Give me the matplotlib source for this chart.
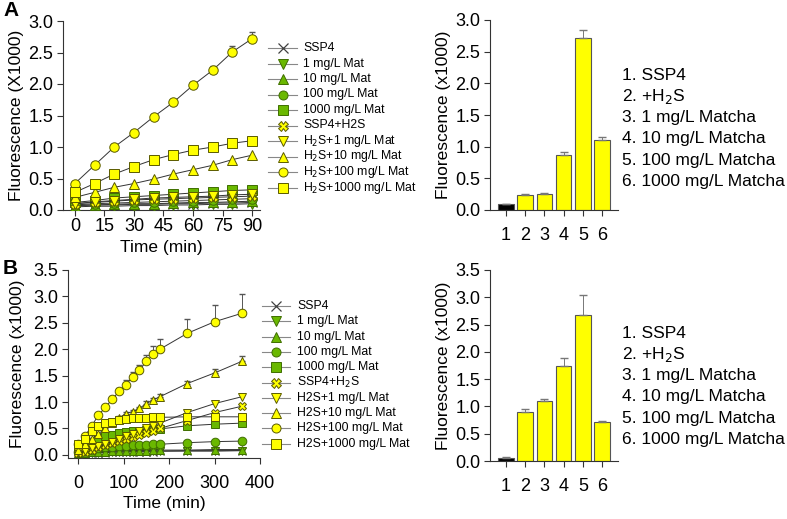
import matplotlib.pyplot as plt
from matplotlib.lines import Line2D
import numpy as np

plt.rcParams['font.family'] = ['Liberation Sans', 'DejaVu Sans']

# Panel A time course (0-90 min)
time_a = [0, 10, 20, 30, 40, 50, 60, 70, 80, 90]
ssp4_a = [0.07, 0.08, 0.08, 0.09, 0.09, 0.10, 0.10, 0.11, 0.11, 0.12]
mat1_a = [0.05, 0.06, 0.06, 0.07, 0.07, 0.08, 0.08, 0.09, 0.09, 0.10]
mat10_a = [0.07, 0.08, 0.09, 0.10, 0.10, 0.11, 0.12, 0.12, 0.13, 0.14]
mat100_a = [0.08, 0.10, 0.11, 0.12, 0.13, 0.14, 0.15, 0.16, 0.17, 0.18]
mat1000_a = [0.12, 0.15, 0.19, 0.21, 0.23, 0.25, 0.27, 0.29, 0.31, 0.32]
ssp4h2s_a = [0.10, 0.12, 0.14, 0.16, 0.17, 0.18, 0.19, 0.20, 0.21, 0.22]
h1_a = [0.10, 0.13, 0.15, 0.17, 0.19, 0.20, 0.21, 0.22, 0.24, 0.25]
h10_a = [0.20, 0.28, 0.36, 0.42, 0.49, 0.57, 0.64, 0.71, 0.80, 0.87]
h100_a = [0.42, 0.71, 1.00, 1.23, 1.48, 1.71, 1.98, 2.22, 2.51, 2.72]
h1000_a = [0.28, 0.42, 0.57, 0.69, 0.80, 0.88, 0.95, 1.00, 1.06, 1.10]
h100_err_a = [0.01, 0.02, 0.02, 0.02, 0.03, 0.03, 0.05, 0.07, 0.09, 0.10]

# Panel B time course (0-360 min)
time_b = [0, 15, 30, 45, 60, 75, 90, 105, 120, 135, 150, 165, 180, 240, 300, 360]
ssp4_b = [0.02, 0.03, 0.03, 0.04, 0.04, 0.05, 0.05, 0.05, 0.06, 0.06, 0.06, 0.06, 0.07, 0.07, 0.07, 0.08]
mat1_b = [0.02, 0.03, 0.04, 0.04, 0.05, 0.05, 0.06, 0.06, 0.06, 0.07, 0.07, 0.07, 0.07, 0.08, 0.08, 0.08]
mat10_b = [0.03, 0.04, 0.05, 0.06, 0.06, 0.07, 0.07, 0.08, 0.08, 0.08, 0.08, 0.09, 0.09, 0.09, 0.10, 0.10]
mat100_b = [0.05, 0.08, 0.10, 0.12, 0.14, 0.15, 0.16, 0.17, 0.18, 0.19, 0.19, 0.20, 0.20, 0.23, 0.25, 0.26]
mat1000_b = [0.10, 0.15, 0.22, 0.30, 0.35, 0.38, 0.41, 0.43, 0.45, 0.46, 0.47, 0.48, 0.49, 0.55, 0.58, 0.60]
ssp4h2s_b = [0.03, 0.06, 0.10, 0.14, 0.18, 0.22, 0.26, 0.30, 0.34, 0.38, 0.42, 0.46, 0.50, 0.65, 0.80, 0.92]
h1_b = [0.05, 0.08, 0.12, 0.16, 0.20, 0.25, 0.30, 0.35, 0.40, 0.45, 0.50, 0.55, 0.60, 0.80, 0.97, 1.10]
h10_b = [0.10, 0.20, 0.30, 0.40, 0.50, 0.60, 0.70, 0.78, 0.82, 0.88, 0.97, 1.04, 1.10, 1.35, 1.55, 1.77]
h100_b = [0.20, 0.35, 0.55, 0.75, 0.90, 1.05, 1.20, 1.33, 1.47, 1.60, 1.77, 1.90, 2.00, 2.30, 2.52, 2.68]
h1000_b = [0.20, 0.30, 0.45, 0.55, 0.60, 0.63, 0.66, 0.68, 0.69, 0.70, 0.70, 0.71, 0.71, 0.72, 0.72, 0.72]
h100_err_b = [0.01, 0.02, 0.03, 0.04, 0.05, 0.06, 0.07, 0.08, 0.09, 0.10, 0.12, 0.16, 0.20, 0.27, 0.32, 0.36]
h10_err_b = [0.01, 0.01, 0.01, 0.02, 0.02, 0.02, 0.03, 0.03, 0.03, 0.03, 0.04, 0.04, 0.05, 0.05, 0.08, 0.10]

# Bar panels
bar_pos = [1, 2, 3, 4, 5, 6]
bar_a = [0.10, 0.24, 0.26, 0.87, 2.72, 1.10]
bar_err_a = [0.0, 0.01, 0.01, 0.05, 0.13, 0.06]
bar_b = [0.06, 0.90, 1.10, 1.75, 2.68, 0.72]
bar_err_b = [0.02, 0.05, 0.04, 0.13, 0.37, 0.02]
bar_names = ["1. SSP4", "2. +H$_2$S", "3. 1 mg/L Matcha", "4. 10 mg/L Matcha",
             "5. 100 mg/L Matcha", "6. 1000 mg/L Matcha"]

GREEN = "#6ab800"
YELLOW = "#ffff00"
EDGE = "#5a5a00"

# marker, face, edge for the 10 series (same order in both panels)
styles = [("x", "none", "#404040"),
          ("v", GREEN, "#3f6e00"),
          ("^", GREEN, "#3f6e00"),
          ("o", GREEN, "#3f6e00"),
          ("s", GREEN, "#3f6e00"),
          ("X", YELLOW, EDGE),
          ("v", YELLOW, EDGE),
          ("^", YELLOW, EDGE),
          ("o", YELLOW, EDGE),
          ("s", YELLOW, EDGE)]

labels_a = ["SSP4", "1 mg/L Mat", "10 mg/L Mat", "100 mg/L Mat", "1000 mg/L Mat",
            "SSP4+H2S", "H$_2$S+1 mg/L Mat", "H$_2$S+10 mg/L Mat",
            "H$_2$S+100 mg/L Mat", "H$_2$S+1000 mg/L Mat"]
labels_b = ["SSP4", "1 mg/L Mat", "10 mg/L Mat", "100 mg/L Mat", "1000 mg/L Mat",
            "SSP4+H$_2$S", "H2S+1 mg/L Mat", "H2S+10 mg/L Mat",
            "H2S+100 mg/L Mat", "H2S+1000 mg/L Mat"]

fig = plt.figure(figsize=(7.87, 5.19), dpi=100)
W, H = 787, 519


def px_axes(x0, y_top, x1, y_bot):
    return fig.add_axes([x0 / W, 1 - y_bot / H, (x1 - x0) / W, (y_bot - y_top) / H])


def style_ax(ax, xpad, ypad=3):
    for s in ["top", "right"]:
        ax.spines[s].set_visible(False)
    for s in ["left", "bottom"]:
        ax.spines[s].set_color("#333333")
        ax.spines[s].set_linewidth(0.8)
    ax.tick_params(direction="out", length=4, width=0.8, colors="#333333",
                   labelsize=13, labelcolor="black")
    ax.tick_params(axis="x", pad=xpad)
    ax.tick_params(axis="y", pad=ypad)


def time_panel(ax, t, series, errs, ms):
    for i, y in enumerate(series):
        m, fc, ec = styles[i]
        if i in errs:
            e = errs[i]
            ax.errorbar(t, y, yerr=[np.zeros(len(e)), e], fmt="none",
                        ecolor="#555555", elinewidth=0.7, capsize=2.5, zorder=2)
        ax.plot(t, y, color="#333333", lw=0.7, marker=m, ms=ms,
                mfc=fc, mec=ec, mew=0.7 if m != "x" else 0.9, zorder=3 + i * 0.1)


def legend_for(labels, x0, x1, xt, y0, dy):
    for i, lab in enumerate(labels):
        m, fc, ec = styles[i]
        yy = 1 - (y0 + i * dy) / H
        fig.add_artist(Line2D([x0 / W, x1 / W], [yy, yy], color="#888888", lw=0.8))
        fig.add_artist(Line2D([(x0 + x1) / 2 / W], [yy], ls="none", marker=m, ms=6.5,
                              mfc=fc, mec=ec, mew=0.7 if m != "x" else 0.9))
        fig.text(xt / W, yy, lab, fontsize=8.8, va="center")


# ---- Panel A line plot
ax1 = px_axes(63, 21, 260, 210)
style_ax(ax1, 1.5)
time_panel(ax1, time_a,
           [ssp4_a, mat1_a, mat10_a, mat100_a, mat1000_a,
            ssp4h2s_a, h1_a, h10_a, h100_a, h1000_a],
           {8: h100_err_a}, 6.8)
ax1.set_xlim(-6, 94)
ax1.set_ylim(0, 3.0)
ax1.set_xticks([0, 15, 30, 45, 60, 75, 90])
ax1.set_yticks(np.arange(0, 3.01, 0.5))
ax1.yaxis.set_major_formatter(plt.FormatStrFormatter("%.1f"))
ax1.set_xlabel("Time (min)", fontsize=12.5, labelpad=4)
ax1.set_ylabel("Fluorescence (X1000)", fontsize=12.5, labelpad=3)
legend_for(labels_a, 268, 297, 303, 48, 15.5)

# ---- Panel A bars
ax2 = px_axes(490, 20, 618, 210)
style_ax(ax2, 8)
cols = ["black"] + [YELLOW] * 5
ax2.bar(bar_pos, bar_a, width=0.8, color=cols, edgecolor="#555555", linewidth=0.8,
        yerr=[np.zeros(6), bar_err_a], error_kw=dict(ecolor="#777777", elinewidth=0.7, capsize=3))
ax2.set_xlim(0.17, 6.83)
ax2.set_ylim(0, 3.0)
ax2.set_xticks(bar_pos)
ax2.set_yticks(np.arange(0, 3.01, 0.5))
ax2.yaxis.set_major_formatter(plt.FormatStrFormatter("%.1f"))
ax2.set_ylabel("Fluorescence (x1000)", fontsize=12.5, labelpad=3)
for i, nm in enumerate(bar_names):
    fig.text(622 / W, 1 - (75 + i * 21.3) / H, nm, fontsize=12.5, va="center")

# ---- Panel B line plot
ax3 = px_axes(68, 270, 260, 458)
style_ax(ax3, 8)
time_panel(ax3, time_b,
           [ssp4_b, mat1_b, mat10_b, mat100_b, mat1000_b,
            ssp4h2s_b, h1_b, h10_b, h100_b, h1000_b],
           {8: h100_err_b, 7: h10_err_b}, 6.2)
ax3.set_xlim(-22, 400)
ax3.set_ylim(-0.06, 3.5)
ax3.set_xticks([0, 100, 200, 300, 400])
ax3.set_yticks(np.arange(0, 3.51, 0.5))
ax3.yaxis.set_major_formatter(plt.FormatStrFormatter("%.1f"))
ax3.set_xlabel("Time (min)", fontsize=12.5, labelpad=3)
ax3.set_ylabel("Fluorescence (x1000)", fontsize=12.5, labelpad=6)
legend_for(labels_b, 262, 290, 297, 306, 15.3)

# ---- Panel B bars
ax4 = px_axes(490, 270, 618, 461)
style_ax(ax4, 8)
ax4.bar(bar_pos, bar_b, width=0.8, color=cols, edgecolor="#555555", linewidth=0.8,
        yerr=[np.zeros(6), bar_err_b], error_kw=dict(ecolor="#777777", elinewidth=0.7, capsize=3))
ax4.set_xlim(0.17, 6.83)
ax4.set_ylim(0, 3.5)
ax4.set_xticks(bar_pos)
ax4.set_yticks(np.arange(0, 3.51, 0.5))
ax4.yaxis.set_major_formatter(plt.FormatStrFormatter("%.1f"))
ax4.set_ylabel("Fluorescence (x1000)", fontsize=12.5, labelpad=3)
for i, nm in enumerate(bar_names):
    fig.text(622 / W, 1 - (333 + i * 21.3) / H, nm, fontsize=12.5, va="center")

fig.text(3 / W, 1 - 10 / H, "A", fontsize=15, fontweight="bold", va="center")
fig.text(3 / W, 1 - 269 / H, "B", fontsize=15, fontweight="bold", va="center")

fig.savefig("out.png", dpi=100)
